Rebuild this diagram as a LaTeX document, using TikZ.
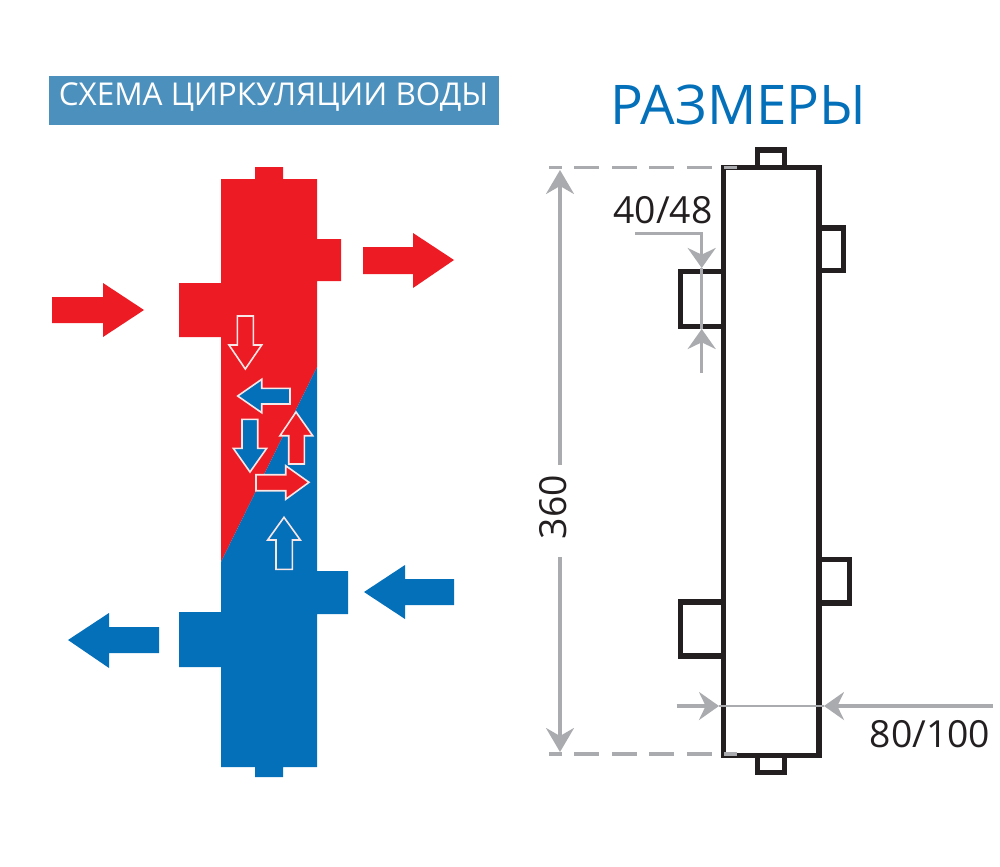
\documentclass[tikz,border=0pt]{standalone}
\usepackage{fontspec}
\setmainfont{Open Sans}
\usetikzlibrary{arrows.meta}
\definecolor{hotred}{HTML}{ED1C24}
\definecolor{coldblue}{HTML}{0570BA}
\definecolor{banner}{HTML}{4C90BE}
\definecolor{dimgrey}{HTML}{A9ABAE}
\definecolor{inkblack}{HTML}{231F20}
\definecolor{edgepale}{HTML}{F9E6E6}
\tikzset{
 hotfill/.style={fill=hotred,draw=none},
 coldfill/.style={fill=coldblue,draw=none},
 smallhot/.style={fill=hotred,draw=edgepale,line width=1.2pt,line join=miter},
 smallcold/.style={fill=coldblue,draw=edgepale,line width=1.2pt,line join=miter},
 outline/.style={draw=inkblack,line width=4.1pt,line join=miter,fill=white,outer sep=0pt},
 stub/.style={draw=inkblack,line width=4.1pt,line join=miter},
 dimline/.style={draw=dimgrey,line width=2.5pt},
 dimtip/.style={-{Stealth[length=18pt,width=21pt,inset=6pt]}},
 dimtipshort/.style={-{Stealth[length=15pt,width=21pt,inset=5pt]}},
 dimdash/.style={draw=dimgrey,line width=2.6pt,dash pattern=on 18.75pt off 9.4pt,dash phase=9.2pt},
 dimlabel/.style={text=inkblack,font=\fontsize{28}{28}\selectfont,inner sep=0pt},
}
\begin{document}
\begin{tikzpicture}[x=0.75pt,y=-0.75pt]
\useasboundingbox (0,0) rectangle (1000,867);
% banner and headings
\node[fill=banner,minimum width=337.5pt,minimum height=36.75pt,inner sep=0pt,outer sep=0pt,anchor=north west] (bannerbox) at (49,76) {};
\node[text=white,inner sep=0pt,font=\fontsize{23.6}{24}\selectfont] (bannertext) at (273.5,97) {СХЕМА ЦИРКУЛЯЦИИ ВОДЫ};
\node[text=coldblue,inner sep=0pt,font=\fontsize{41}{42}\selectfont] (sizes) at (738.5,105) {РАЗМЕРЫ};
% hydraulic separator, flow scheme
\fill[hotfill] (255,167) -- (283,167) -- (283,179) -- (317,179) -- (317,239) -- (341,239) -- (341,281) -- (317,281) -- (317,367) -- (221,562) -- (221,337) -- (179,337) -- (179,283) -- (221,283) -- (221,179) -- (255,179) -- cycle;
\fill[coldfill] (317,367) -- (317,571) -- (348,571) -- (348,614) -- (317,614) -- (317,767) -- (283,767) -- (283,777) -- (255,777) -- (255,767) -- (221,767) -- (221,667) -- (179,667) -- (179,612) -- (221,612) -- (221,562) -- cycle;
% large arrows
\fill[hotfill] (52,297) -- (103,297) -- (103,283) -- (144,310) -- (103,337) -- (103,323) -- (52,323) -- cycle;
\fill[hotfill] (363,247) -- (413,247) -- (413,233) -- (454,260) -- (413,288) -- (413,274) -- (363,274) -- cycle;
\fill[coldfill] (454,579) -- (405,579) -- (405,565) -- (364,592) -- (405,619) -- (405,605) -- (454,605) -- cycle;
\fill[coldfill] (159,627) -- (109,627) -- (109,613) -- (68,640) -- (109,668) -- (109,653) -- (159,653) -- cycle;
% small outlined arrows
\draw[smallhot] (237.3,316) -- (253.3,316) -- (253.3,345) -- (261.7,345) -- (245.3,369) -- (229,345) -- (237.3,345) -- cycle;
\draw[smallcold] (290,388.3) -- (261.7,388.3) -- (261.7,379.3) -- (237.7,396) -- (261.7,412.7) -- (261.7,404) -- (290,404) -- cycle;
\draw[smallcold] (242,419.3) -- (257.7,419.3) -- (257.7,448.3) -- (266.7,448.3) -- (250,472) -- (233.3,448.3) -- (242,448.3) -- cycle;
\draw[smallhot] (288.7,464) -- (304.3,464) -- (304.3,435.7) -- (312.7,435.7) -- (296,412) -- (280,435.7) -- (288.7,435.7) -- cycle;
\draw[smallhot] (256,474.7) -- (285.7,474.7) -- (285.7,465.7) -- (309,482.3) -- (285.7,499.3) -- (285.7,490.7) -- (256,490.7) -- cycle;
\draw[smallcold] (276,569.3) -- (292.3,569.3) -- (292.3,540) -- (300.3,540) -- (284,517.3) -- (267.7,540) -- (276,540) -- cycle;
% outline drawing
\draw[stub] (757.3,167.5) -- (757.3,150) -- (784.7,150) -- (784.7,167.5);
\draw[stub] (757.3,755.8) -- (757.3,772.5) -- (784.7,772.5) -- (784.7,755.8);
\draw[stub] (818.7,228) -- (843.5,228) -- (843.5,270.7) -- (818.7,270.7);
\draw[stub] (818.7,559.3) -- (849.5,559.3) -- (849.5,602.8) -- (818.7,602.8);
\draw[stub] (723.3,271.7) -- (680.3,271.7) -- (680.3,326.5) -- (723.3,326.5);
\draw[stub] (723.3,602) -- (680.3,602) -- (680.3,656) -- (723.3,656);
\node[outline,minimum width=71.6pt,minimum height=441pt,inner sep=0pt,anchor=north west] (body) at (723.3,167.5) {};
% dimensions
\coordinate (topdashL) at (549,167.7);
\coordinate (topdashR) at (737,167.7);
\coordinate (botdashL) at (549,754);
\coordinate (botdashR) at (737,754);
\draw[dimdash] (topdashL) -- (topdashR);
\draw[dimdash] (botdashL) -- (botdashR);
\node[dimlabel,rotate=90] (height) at (553,507) {360};
\coordinate (htop) at (560,170);
\coordinate (hbot) at (560,752);
\coordinate (hgaptop) at (560,465);
\coordinate (hgapbot) at (560,557);
\draw[dimline,dimtip] (hgaptop) -- (htop);
\draw[dimline,dimtip] (hgapbot) -- (hbot);
\node[dimlabel] (pipe) at (663,210) {40/48};
\coordinate (pipeleader) at (635,233.7);
\coordinate (pipetop) at (701.7,268);
\coordinate (pipebot) at (701.7,329);
\coordinate (pipeend) at (701.7,373);
\draw[dimline,dimtipshort] (pipeleader) -- (pipetop |- pipeleader) -- (pipetop);
\draw[dimline,dimtipshort] (pipeend) -- (pipebot);
\draw[draw=dimgrey,line width=2pt] (pipetop) -- (pipebot);
\node[dimlabel] (width) at (930,734) {80/100};
\coordinate (wleft) at (719,706);
\coordinate (wright) at (824,706);
\coordinate (wstart) at (676.7,706);
\coordinate (wend) at (993,706);
\draw[dimline,dimtipshort] (wstart) -- (wleft);
\draw[dimline,dimtipshort] (wend) -- (wright);
\draw[draw=dimgrey,line width=2pt] (wleft) -- (wright);
\end{tikzpicture}
\end{document}
